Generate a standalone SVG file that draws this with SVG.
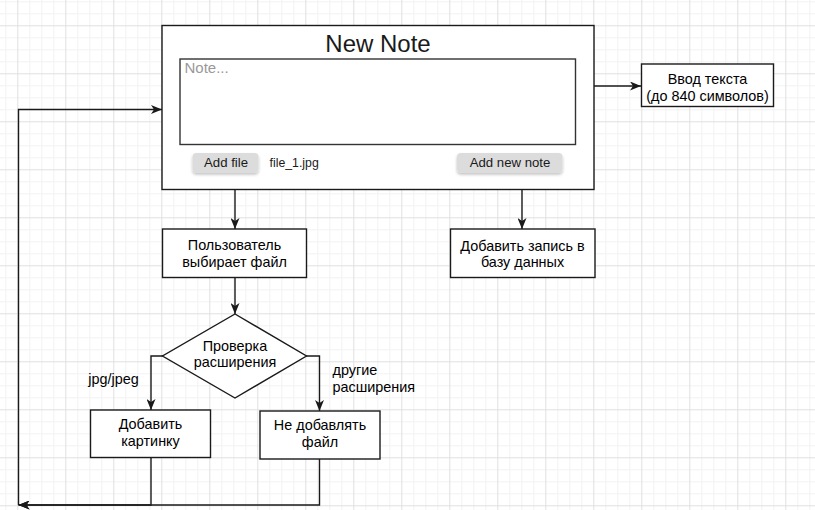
<svg xmlns="http://www.w3.org/2000/svg" width="815" height="510" viewBox="0 0 815 510">
<style>
.box{fill:#fff;stroke:#1a1a1a;stroke-width:1.4}
.edge{fill:none;stroke:#1a1a1a;stroke-width:1.4}
.lbl{font-family:"Liberation Sans",Arial,sans-serif;font-size:14.4px;fill:#000;text-anchor:middle}
.btn{fill:#dcdcdc;stroke:none;filter:url(#sh)}
.btxt{font-family:"Liberation Sans",Arial,sans-serif;font-size:13.2px;fill:#1a1a1a;text-anchor:middle}
</style>
<defs>
<pattern id="grid" patternUnits="userSpaceOnUse" x="17.3" y="25.3" width="48" height="48">
<rect x="12" y="0" width="1" height="48" fill="#f2f2f2"/>
<rect x="24" y="0" width="1" height="48" fill="#f2f2f2"/>
<rect x="36" y="0" width="1" height="48" fill="#f2f2f2"/>
<rect x="0" y="12" width="48" height="1" fill="#f2f2f2"/>
<rect x="0" y="24" width="48" height="1" fill="#f2f2f2"/>
<rect x="0" y="36" width="48" height="1" fill="#f2f2f2"/>
<rect x="0" y="0" width="1" height="48" fill="#e0e0e0"/>
<rect x="0" y="0" width="48" height="1" fill="#e0e0e0"/>
</pattern>
<filter id="sh" x="-20%" y="-30%" width="140%" height="180%">
<feDropShadow dx="0" dy="2" stdDeviation="1.5" flood-color="#000" flood-opacity="0.25"/>
</filter>
<marker id="arr" viewBox="0 0 11 9" refX="11" refY="4.5" markerWidth="11" markerHeight="9" markerUnits="userSpaceOnUse" orient="auto">
<path d="M0,0 L11,4.5 L0,9 L3,4.5 Z" fill="#1a1a1a"/>
</marker>
</defs>
<rect width="815" height="510" fill="#fff"/>
<rect width="815" height="510" fill="url(#grid)"/>

<g id="connectors">
<path class="edge" d="M594,86 L641,86" marker-end="url(#arr)"/>
<path class="edge" d="M235,189 L235,229" marker-end="url(#arr)"/>
<path class="edge" d="M522,189 L522,229" marker-end="url(#arr)"/>
<path class="edge" d="M235,278 L235,314" marker-end="url(#arr)"/>
<path class="edge" d="M163,356 L151,356 L151,410" marker-end="url(#arr)"/>
<path class="edge" d="M306,356 L319.5,356 L319.5,411" marker-end="url(#arr)"/>
<path class="edge" d="M151,458 L151,505 L18.5,505" marker-end="url(#arr)"/>
<path class="edge" d="M319.5,459 L319.5,505 L18.5,505" marker-end="url(#arr)"/>
<path class="edge" d="M18.5,505 L18.5,109.5 L162,109.5" marker-end="url(#arr)"/>
<text class="lbl" x="113.5" y="383.5">jpg/jpeg</text>
<text class="lbl" x="332.5" y="375" style="text-anchor:start">другие</text>
<text class="lbl" x="332.5" y="391.7" style="text-anchor:start">расширения</text>
</g>

<g id="new-note">
<rect class="box" x="162" y="25.5" width="432" height="164"/>
<text x="378" y="52.3" style="font-family:'Liberation Sans',Arial,sans-serif;font-size:24px;fill:#1a1a1a;text-anchor:middle">New Note</text>
<rect x="180" y="59" width="395.5" height="85.5" fill="#fff" stroke="#333" stroke-width="1.4"/>
<text x="184.5" y="73" style="font-family:'Liberation Sans',Arial,sans-serif;font-size:15px;fill:#999">Note...</text>
<rect class="btn" x="192.5" y="153" width="66" height="19.5" rx="4"/>
<text class="btxt" x="226" y="167">Add file</text>
<text x="269.5" y="167.3" style="font-family:'Liberation Sans',Arial,sans-serif;font-size:12.3px;fill:#1a1a1a">file_1.jpg</text>
<rect class="btn" x="457" y="153" width="105.5" height="19.5" rx="4"/>
<text class="btxt" x="510" y="167">Add new note</text>
</g>

<g id="text-input">
<rect class="box" x="641.5" y="64" width="132" height="42.5"/>
<text class="lbl" x="707.5" y="84.3">Ввод текста</text>
<text class="lbl" x="707.5" y="100.5">(до 840 символов)</text>
</g>

<g id="user-selects">
<rect class="box" x="162.5" y="229" width="144" height="48.5"/>
<text class="lbl" x="234.5" y="250">Пользователь</text>
<text class="lbl" x="234.5" y="266.7">выбирает файл</text>
</g>

<g id="add-db">
<rect class="box" x="450.5" y="229" width="144.5" height="48.5"/>
<text class="lbl" x="522.5" y="250.5">Добавить запись в</text>
<text class="lbl" x="522.5" y="266.7">базу данных</text>
</g>

<g id="check-ext">
<path class="box" d="M235,314 L306.5,356 L235,398 L162.5,356 Z"/>
<text class="lbl" x="235" y="351">Проверка</text>
<text class="lbl" x="235" y="366.7">расширения</text>
</g>

<g id="add-image">
<rect class="box" x="90.5" y="410" width="120" height="47.5"/>
<text class="lbl" x="150.5" y="429">Добавить</text>
<text class="lbl" x="150.5" y="445.7">картинку</text>
</g>

<g id="no-add">
<rect class="box" x="260" y="411" width="120" height="48"/>
<text class="lbl" x="320" y="430">Не добавлять</text>
<text class="lbl" x="320" y="446.7">файл</text>
</g>
</svg>
